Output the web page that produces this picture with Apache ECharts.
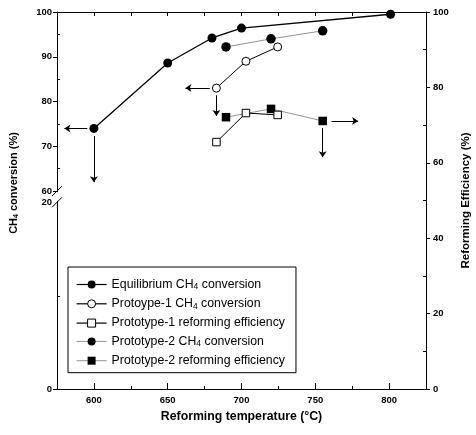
<!DOCTYPE html>
<html>
<head>
<meta charset="utf-8">
<script src="https://cdn.jsdelivr.net/npm/echarts@6/dist/echarts.min.js"></script>
<style>
  html, body { margin: 0; padding: 0; background: #fff; }
  #chart { width: 476px; height: 435px; }
</style>
</head>
<body>
<div id="chart"></div>
<script>
// reforming temperature (°C) and values
const eqTemp = [600, 650, 680, 700, 801];
const eqConv = [74.0, 88.6, 94.2, 96.4, 99.5];
const p1Temp = [683, 703, 724.5];
const p1Conv = [83.0, 89.0, 92.2];
const p1Eff = [65.5, 73.2, 72.7];
const p2Temp = [689.5, 720, 755];
const p2Conv = [92.2, 94.0, 95.8];
const p2Eff = [72.1, 74.3, 71.1];

const seriesNames = [
  'Equilibrium CH4 conversion',
  'Protoype-1 CH4 conversion',
  'Prototype-1 reforming efficiency',
  'Prototype-2 CH4 conversion',
  'Prototype-2 reforming efficiency'
];

// x ticks
const xLabels = [600, 650, 700, 750, 800];
const xMinor = [625, 675, 725, 775];
const xTop = [600, 625, 650, 675, 700, 725, 750, 775, 800];

// left axis is broken: the 0-20 part is squeezed under the 60 mark
const leftMin = 15.8;
const leftBreak20 = 57.5;
const leftTickValues = [leftMin, leftBreak20, 60, 70, 80, 90, 100];
const leftTickLabels = ['0', '20', '60', '70', '80', '90', '100'];
const leftMinor = [36.6, 65, 75, 85, 95];
const rightTicks = [0, 20, 40, 60, 80, 100];
const rightMinor = [10, 30, 50, 70, 90];

// arrows pointing at the axis each curve belongs to, [from, to] in data units
const eqArrows = [[[595.5, 74], [580, 74]], [[600, 72.3], [600, 62]]];
const p1Arrows = [[[678.5, 83], [662, 83]], [[683, 81.4], [683, 76.8]]];
const p2Arrows = [[[761, 71.1], [779, 71.1]], [[755, 69.2], [755, 61.5]]];

const FONT = 'Liberation Sans, Arial, Helvetica, sans-serif';
const subStyle = { fontSize: 7, fontWeight: 'bold', fontFamily: FONT, color: '#000', padding: [5, 0, 0, 0] };

function pairs(xs, ys) {
  return xs.map((x, i) => [x, ys[i]]);
}

function arrowMark(list) {
  return {
    silent: true,
    animation: false,
    symbol: ['none', 'arrow'],
    symbolSize: 6,
    label: { show: false },
    lineStyle: { color: '#000', width: 1, type: 'solid' },
    emphasis: { disabled: true },
    data: list.map(a => [{ coord: a[0] }, { coord: a[1] }])
  };
}

const axisLine = { show: true, onZero: false, lineStyle: { color: '#000', width: 1 } };
const labelStyle = { color: '#000', fontFamily: FONT, fontSize: 9.5, fontWeight: 'bold' };

const chart = echarts.init(document.getElementById('chart'));

const option = {
  animation: false,
  backgroundColor: '#fff',
  grid: { left: 57, right: 50, top: 12, bottom: 46, containLabel: false, outerBoundsMode: 'none' },
  legend: {
    orient: 'vertical',
    left: 68,
    top: 267,
    itemWidth: 30,
    itemHeight: 10,
    itemGap: 6.3,
    padding: [11.5, 11, 6, 8],
    borderColor: '#000',
    borderWidth: 1,
    backgroundColor: '#fff',
    selectedMode: false,
    data: seriesNames.map((n, i) => ({
      name: n,
      lineStyle: { width: i < 3 ? 1.2 : 0.8 },
      itemStyle: { borderWidth: 1 }
    })),
    formatter: n => n.replace('CH4', 'CH{sub|4}'),
    textStyle: {
      color: '#000', fontFamily: FONT, fontSize: 12.3,
      rich: { sub: Object.assign({}, subStyle, { fontWeight: 'normal', fontSize: 8.5 }) }
    }
  },
  xAxis: [
    {
      type: 'value', min: 575, max: 825, position: 'bottom',
      name: 'Reforming temperature (°C)', nameLocation: 'middle', nameGap: 22,
      nameTextStyle: { color: '#000', fontFamily: FONT, fontSize: 12.3, fontWeight: 'bold' },
      axisLine: axisLine,
      axisTick: { show: true, inside: true, length: 6, customValues: xLabels, lineStyle: { color: '#000' } },
      axisLabel: Object.assign({ customValues: xLabels, margin: 6 }, labelStyle),
      splitLine: { show: false }
    },
    {
      type: 'value', min: 575, max: 825, position: 'bottom',
      axisLine: { show: false, onZero: false },
      axisTick: { show: true, inside: true, length: 3, customValues: xMinor, lineStyle: { color: '#000' } },
      axisLabel: { show: false },
      splitLine: { show: false }
    },
    {
      type: 'value', min: 575, max: 825, position: 'top',
      axisLine: axisLine,
      axisTick: { show: true, inside: true, length: 4, customValues: xTop, lineStyle: { color: '#000' } },
      axisLabel: { show: false },
      splitLine: { show: false }
    }
  ],
  yAxis: [
    {
      type: 'value', min: leftMin, max: 100, position: 'left',
      name: 'CH{sub|4} conversion (%)', nameLocation: 'middle', nameRotate: 90, nameGap: 37,
      nameTextStyle: {
        color: '#000', fontFamily: FONT, fontSize: 11, fontWeight: 'bold',
        padding: [0, 0, 0, 35], rich: { sub: subStyle }
      },
      axisLine: axisLine,
      axisTick: { show: true, inside: false, length: 4, customValues: [leftMin, 60, 70, 80, 90, 100], lineStyle: { color: '#000' } },
      axisLabel: Object.assign({
        customValues: leftTickValues, margin: 5,
        formatter: v => {
          const i = leftTickValues.findIndex(t => Math.abs(t - v) < 1e-6);
          return i < 0 ? '' : leftTickLabels[i];
        }
      }, labelStyle),
      splitLine: { show: false }
    },
    {
      type: 'value', min: 0, max: 100, position: 'right',
      name: 'Reforming Efficiency (%)', nameLocation: 'middle', nameRotate: 90, nameGap: 33,
      nameTextStyle: { color: '#000', fontFamily: FONT, fontSize: 11.5, fontWeight: 'bold' },
      axisLine: axisLine,
      axisTick: { show: true, inside: false, length: 4, customValues: rightTicks, lineStyle: { color: '#000' } },
      axisLabel: Object.assign({ customValues: rightTicks, margin: 7 }, labelStyle),
      splitLine: { show: false }
    },
    {
      type: 'value', min: leftMin, max: 100, position: 'left',
      axisLine: { show: false, onZero: false },
      axisTick: { show: true, inside: true, length: 3, customValues: leftMinor, lineStyle: { color: '#000' } },
      axisLabel: { show: false },
      splitLine: { show: false }
    },
    {
      type: 'value', min: 0, max: 100, position: 'right',
      axisLine: { show: false, onZero: false },
      axisTick: { show: true, inside: true, length: 3, customValues: rightMinor, lineStyle: { color: '#000' } },
      axisLabel: { show: false },
      splitLine: { show: false }
    }
  ],
  series: [
    {
      name: seriesNames[0], type: 'line', xAxisIndex: 0, yAxisIndex: 0,
      data: pairs(eqTemp, eqConv),
      symbol: 'circle', symbolSize: 9,
      itemStyle: { color: '#000' },
      lineStyle: { color: '#000', width: 1.3 },
      z: 3,
      markLine: arrowMark(eqArrows)
    },
    {
      name: seriesNames[1], type: 'line', xAxisIndex: 0, yAxisIndex: 0,
      data: pairs(p1Temp, p1Conv),
      symbol: 'circle', symbolSize: 8,
      itemStyle: { color: '#fff', borderColor: '#000', borderWidth: 1 },
      lineStyle: { color: '#000', width: 1 },
      z: 4,
      markLine: arrowMark(p1Arrows)
    },
    {
      name: seriesNames[2], type: 'line', xAxisIndex: 0, yAxisIndex: 1,
      data: pairs(p1Temp, p1Eff),
      symbol: 'rect', symbolSize: 7.5,
      itemStyle: { color: '#fff', borderColor: '#000', borderWidth: 1 },
      lineStyle: { color: '#000', width: 1 },
      z: 4
    },
    {
      name: seriesNames[3], type: 'line', xAxisIndex: 0, yAxisIndex: 0,
      data: pairs(p2Temp, p2Conv),
      symbol: 'circle', symbolSize: 9.5,
      itemStyle: { color: '#000' },
      lineStyle: { color: '#777', width: 0.8 },
      z: 3
    },
    {
      name: seriesNames[4], type: 'line', xAxisIndex: 0, yAxisIndex: 1,
      data: pairs(p2Temp, p2Eff),
      symbol: 'rect', symbolSize: 8.5,
      itemStyle: { color: '#000' },
      lineStyle: { color: '#777', width: 0.8 },
      z: 3,
      markLine: arrowMark(p2Arrows)
    }
  ]
};

chart.setOption(option);

// break marks on the left axis between 60 and 20
const bx = chart.convertToPixel({ xAxisIndex: 0 }, 575);
const b60 = chart.convertToPixel({ yAxisIndex: 0 }, 60);
const b20 = chart.convertToPixel({ yAxisIndex: 0 }, leftBreak20);
chart.setOption({
  graphic: [
    { type: 'rect', z: 100, shape: { x: bx - 2, y: b60 + 1, width: 4, height: b20 - b60 - 2 }, style: { fill: '#fff' } },
    { type: 'line', z: 101, shape: { x1: bx - 5, y1: b60 + 5, x2: bx + 5, y2: b60 - 5 }, style: { stroke: '#000', lineWidth: 1 } },
    { type: 'line', z: 101, shape: { x1: bx - 5, y1: b20 + 5, x2: bx + 5, y2: b20 - 5 }, style: { stroke: '#000', lineWidth: 1 } }
  ]
});
</script>
</body>
</html>
